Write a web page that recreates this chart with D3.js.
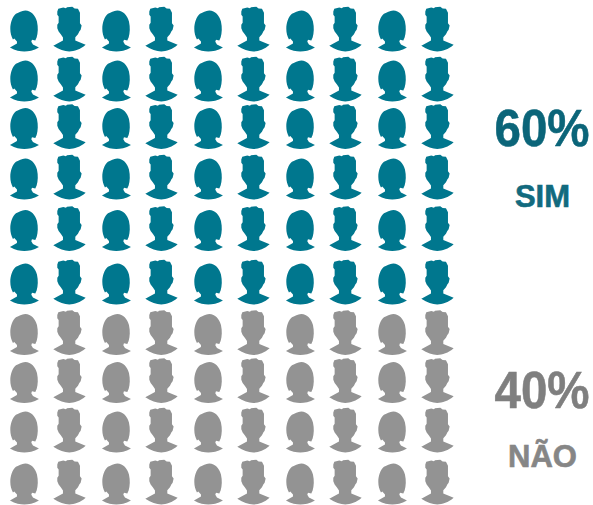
<!DOCTYPE html>
<html>
<head>
<meta charset="utf-8">
<style>
html,body{margin:0;padding:0;background:#fff}
svg{display:block}
text{font-family:"Liberation Sans",Arial,sans-serif;font-weight:700;text-anchor:middle}
</style>
<script src="https://cdn.jsdelivr.net/npm/d3@7/dist/d3.min.js"></script>
</head>
<body>
<script>
const categories = ["SIM", "NÃO"];
const percentages = [60, 40];
const figureKinds = ["mulher", "homem"];
const categoryColors = ["#00778e", "#939393"];
const percentColors = ["#0b6579", "#7f7f7f"];
const nameColors = ["#126a7e", "#868686"];

// Silhouettes, drawn around the bottom centre of each figure
const silhouettes = {
  mulher: "M-43,-12C-27,-3 -12,0 0,0C12,0 28,-3 44,-12L26,-21L21,-29L23,-35L33,-33L37,-42C41,-55 42,-72 38,-90C33,-108 21,-123 3,-123C-9,-122 -15,-117 -25,-113C-36,-105 -42,-85 -42,-68C-42,-55 -39,-45 -34,-36L-30,-39L-22,-30L-22,-24Z",
  homem: "M-48,-17C-30,-5 -15,0 0,0C15,0 33,-6 49,-20L18,-33L18,-43L26,-52L30,-60L34,-65L37,-78L32,-85L32,-116L26,-128L16,-129L9,-134L-7,-133L-10,-130L-18,-132L-33,-128L-36,-120L-36,-110L-32,-105L-32,-86L-36,-80L-36,-70L-32,-60L-25,-51L-19,-42L-19,-33Z"
};

const width = 593, height = 505;
const perRow = 10;

const svg = d3.select("body").append("svg")
  .attr("width", width).attr("height", height);

// One figure per percentage point, filled row by row and category by category
const people = categories.flatMap((name, c) =>
  d3.range(percentages[c]).map(() => ({ category: c })));
people.forEach((p, i) => {
  p.col = i % perRow;
  p.row = Math.floor(i / perRow);
  p.kind = figureKinds[p.col % figureKinds.length];
});

const pairX = d3.scaleLinear().domain([0, 4]).range([24.3, 392.3]);
const kindOffset = d3.scaleOrdinal().domain(figureKinds).range([0, 45]);
const rowBase = d3.scaleOrdinal()
  .domain(d3.range(perRow))
  .range([51.5, 101.5, 149, 199.5, 251, 304.5, 355, 403, 452.5, 504.5]);

svg.append("g").selectAll("path")
  .data(people)
  .join("path")
  .attr("d", d => silhouettes[d.kind])
  .attr("fill", d => categoryColors[d.category])
  .attr("transform", d => {
    const x = pairX(Math.floor(d.col / 2)) + kindOffset(d.kind);
    return `translate(${x},${rowBase(d.row)}) scale(${1 / 3})`;
  });

// Share and name beside each block of figures
const labelY = d3.scaleOrdinal().domain(categories).range([146, 407.5]);
const nameY = d3.scaleOrdinal().domain(categories).range([206.5, 467]);

svg.append("g").selectAll("text")
  .data(categories)
  .join("text")
  .attr("transform", d => `translate(542,${labelY(d)}) scale(1,1.09)`)
  .attr("font-size", 47.5)
  .attr("fill", (d, i) => percentColors[i])
  .attr("stroke", (d, i) => percentColors[i])
  .attr("stroke-width", 0.5)
  .text((d, i) => percentages[i] + "%");

svg.append("g").selectAll("text")
  .data(categories)
  .join("text")
  .attr("x", 542.5).attr("y", d => nameY(d))
  .attr("font-size", 31)
  .attr("fill", (d, i) => nameColors[i])
  .attr("stroke", (d, i) => nameColors[i])
  .attr("stroke-width", 0.6)
  .text(d => d);
</script>
</body>
</html>
